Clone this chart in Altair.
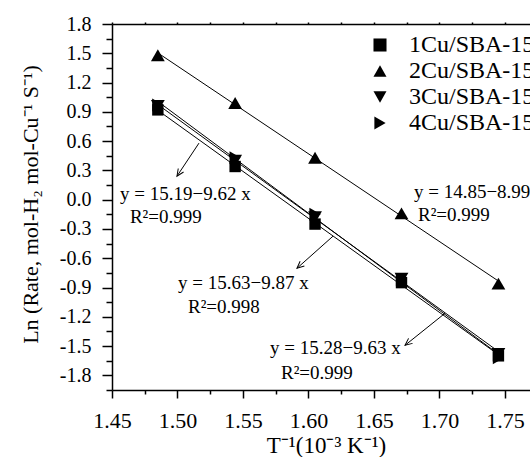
import altair as alt
import pandas as pd

# ---- data ----
x_vals = [1.485, 1.544, 1.605, 1.671, 1.745]
series = ["1Cu/SBA-15", "2Cu/SBA-15", "3Cu/SBA-15", "4Cu/SBA-15"]
y_1cu = [0.92, 0.34, -0.25, -0.85, -1.60]
y_2cu = [1.48, 0.99, 0.43, -0.14, -0.86]
y_3cu = [0.96, 0.40, -0.18, -0.81, -1.58]
y_4cu = [0.97, 0.43, -0.15, -0.82, -1.62]
shapes = ["square", "triangle-up", "triangle-down", "triangle-right"]
marker_sizes = [130, 190, 190, 170]

eq_text = ["y = 15.19\u22129.62 x", "R\u00b2=0.999",
           "y = 14.85\u22128.99 x", "R\u00b2=0.999",
           "y = 15.63\u22129.87 x", "R\u00b2=0.998",
           "y = 15.28\u22129.63 x", "R\u00b2=0.999"]
eq_x = [1.4561, 1.4637, 1.6805, 1.6836, 1.5004, 1.5080, 1.5706, 1.5790]
eq_y = [0.056, -0.179, 0.077, -0.159, -0.856, -1.103, -1.523, -1.779]

arrow_x_from = [1.5164, 1.6187, 1.7042]
arrow_y_from = [0.5795, -0.374, -1.164]
arrow_x_to = [1.4996, 1.5912, 1.6737]
arrow_y_to = [0.241, -0.703, -1.492]
arrow_angle = [123.7, 138.4, 141.3]

x_ticks = [1.45, 1.475, 1.50, 1.525, 1.55, 1.575, 1.60, 1.625, 1.65, 1.675, 1.70, 1.725, 1.75]
y_ticks = [-1.95, -1.8, -1.65, -1.5, -1.35, -1.2, -1.05, -0.9, -0.75, -0.6, -0.45, -0.3, -0.15,
           0.0, 0.15, 0.3, 0.45, 0.6, 0.75, 0.9, 1.05, 1.2, 1.35, 1.5, 1.65, 1.8]

x_title = "T\u207b\u00b9(10\u207b\u00b3 K\u207b\u00b9)"
y_title = "Ln (Rate, mol-H\u2082 mol-Cu\u207b\u00b9 S\u207b\u00b9)"

# ---- tables ----
rows = []
for s, ys_, sz in zip(series, [y_1cu, y_2cu, y_3cu, y_4cu], marker_sizes):
    for xv, yv in zip(x_vals, ys_):
        rows.append({"series": s, "x": xv, "y": yv, "sz": sz})
df = pd.DataFrame(rows)
ann = pd.DataFrame({"text": eq_text, "x": eq_x, "y": eq_y})
arr = pd.DataFrame({"x": arrow_x_from, "y": arrow_y_from,
                    "x2": arrow_x_to, "y2": arrow_y_to, "ang": arrow_angle})

FONT = "Liberation Serif"
xs = alt.Scale(domain=[1.45, 1.7691], nice=False, zero=False)
ys = alt.Scale(domain=[-1.95, 1.8], nice=False, zero=False)

x_major = "abs(datum.value*20 - round(datum.value*20)) < 0.001"
y_major = "abs(datum.value/0.3 - round(datum.value/0.3)) < 0.001"

x_axis = alt.Axis(
    orient="bottom", values=x_ticks, title=x_title,
    labelExpr=f"{x_major} ? format(datum.value, '.2f') : ''",
    tickSize={"condition": {"test": x_major, "value": 8}, "value": 4},
    labelFontSize=22, labelBaseline="alphabetic", labelPadding=29,
    labelFlush=False, labelOverlap=False,
    titleFontSize=23, titleX=214, titleY=62, titleBaseline="alphabetic",
    titleAlign="center",
)
y_axis = alt.Axis(
    orient="left", values=y_ticks, title=y_title,
    labelExpr=f"{y_major} ? replace(format(datum.value, '.1f'), '\u2212', '-') : ''",
    tickSize={"condition": {"test": y_major, "value": 10}, "value": 6},
    labelFontSize=20, labelPadding=11, labelAlign="right", labelBaseline="middle",
    labelFlush=False, labelOverlap=False,
    titleFontSize=22, titleX=-75, titleY=180, titleAngle=270,
    titleBaseline="alphabetic", titleAlign="center",
)
top_axis = alt.Axis(orient="top", values=x_ticks, labels=False, title=None, tickSize=2)

Y = alt.Y("y:Q", scale=ys, axis=y_axis)

base = alt.Chart(df)

lines = base.transform_regression("x", "y", groupby=["series"]).mark_line(
    color="black", strokeWidth=1
).encode(
    x=alt.X("x:Q", scale=xs, axis=top_axis),
    y=Y,
    detail="series:N",
)

texts = alt.Chart(ann).mark_text(align="left", baseline="middle", font=FONT,
                                 fontSize=19, color="black").encode(
    x=alt.X("x:Q", scale=xs, axis=None),
    y=Y,
    text="text:N",
)

arrows = alt.Chart(arr).mark_rule(color="black", strokeWidth=1).encode(
    x=alt.X("x:Q", scale=xs, axis=None),
    y=Y,
    x2="x2:Q", y2="y2:Q",
)

heads = alt.Chart(arr).mark_point(shape="M-1,-0.45L0,0L-1,0.45", filled=False, size=200,
                                  color="black", strokeWidth=1, opacity=1).encode(
    x=alt.X("x2:Q", scale=xs, axis=None),
    y=alt.Y("y2:Q", scale=ys, axis=y_axis),
    angle=alt.Angle("ang:Q", scale=None),
)

points = base.mark_point(filled=True, color="black", opacity=1).encode(
    x=alt.X("x:Q", scale=xs, axis=x_axis),
    y=Y,
    size=alt.Size("sz:Q", scale=None, legend=None),
    shape=alt.Shape("series:N", scale=alt.Scale(domain=series, range=shapes),
                    legend=alt.Legend(orient="none", legendX=256, legendY=9, title=None,
                                      labelFont=FONT, labelFontSize=24, labelColor="black",
                                      symbolSize=170, symbolFillColor="black",
                                      symbolStrokeColor="black", symbolStrokeWidth=0,
                                      rowPadding=2, labelOffset=17, padding=0,
                                      labelLimit=300)),
)

chart = alt.layer(lines, arrows, heads, texts, points).properties(
    width=418, height=366,
    autosize=alt.AutoSizeParams(type="none"),
    padding={"left": 112, "top": 24, "right": 0, "bottom": 67},
).configure_view(stroke=None).configure_axis(
    domainColor="black", tickColor="black", labelColor="black", titleColor="black",
    grid=False, labelFont=FONT, titleFont=FONT, titleFontWeight="normal",
    domainWidth=1.5, tickWidth=1.5,
)

chart.save("out.html", embed_options={"renderer": "svg", "actions": False})
